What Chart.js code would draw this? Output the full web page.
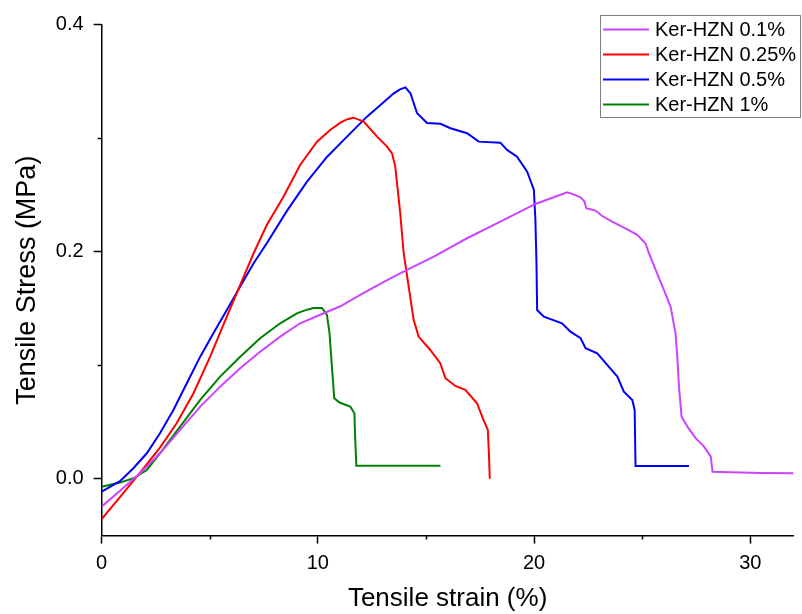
<!DOCTYPE html>
<html>
<head>
<meta charset="utf-8">
<script src="https://cdn.jsdelivr.net/npm/chart.js@4/dist/chart.umd.min.js"></script>
<style>
html,body{margin:0;padding:0;background:#fff;}
#wrap{width:802px;height:614px;position:relative;}
</style>
</head>
<body>
<div id="wrap"><canvas id="c" width="802" height="614"></canvas></div>
<script>
// ---- data ----
const seriesLabels = ['Ker-HZN 0.1%', 'Ker-HZN 0.25%', 'Ker-HZN 0.5%', 'Ker-HZN 1%'];
const seriesColors = ['#CC44FF', '#FF0000', '#0000FF', '#008000'];

const strain01 = [0, 0.85, 1.78, 2.70, 3.63, 4.56, 5.48, 6.41, 7.33, 8.26, 9.18, 10.11, 11.04, 12.0, 13.05, 14.12, 15.36, 16.9, 18.44, 20.06, 20.91, 21.53, 21.76, 22.15, 22.33, 22.41, 22.84, 23.15, 23.61, 24.31, 24.77, 25.15, 25.31, 25.62, 26.0, 26.31, 26.54, 26.62, 26.7, 26.82, 27.09, 27.47, 27.86, 28.17, 28.25, 29.1, 30.5, 32.0];
const stress01 = [-0.0245, -0.0105, 0.0049, 0.0225, 0.0431, 0.0636, 0.0812, 0.0974, 0.112, 0.1252, 0.137, 0.1445, 0.152, 0.1625, 0.1735, 0.184, 0.1957, 0.2119, 0.2265, 0.2421, 0.248, 0.2524, 0.251, 0.248, 0.2442, 0.2383, 0.2363, 0.2315, 0.2265, 0.2198, 0.2149, 0.2075, 0.1987, 0.184, 0.1664, 0.1517, 0.1282, 0.1076, 0.0812, 0.0548, 0.046, 0.0358, 0.0284, 0.0196, 0.0063, 0.0058, 0.0052, 0.005];

const strain025 = [0, 0.85, 1.78, 2.70, 3.47, 4.25, 5.02, 5.79, 6.41, 7.03, 7.64, 8.41, 9.18, 9.96, 10.57, 11.04, 11.4, 11.65, 12.12, 12.74, 13.2, 13.43, 13.58, 13.81, 13.97, 14.2, 14.43, 14.66, 15.2, 15.66, 15.9, 16.36, 16.82, 17.36, 17.66, 17.86, 17.91, 17.95];
const stress025 = [-0.0355, -0.0162, 0.0055, 0.0275, 0.049, 0.0754, 0.1076, 0.1429, 0.1708, 0.1987, 0.2236, 0.2485, 0.2765, 0.297, 0.3073, 0.3137, 0.317, 0.3181, 0.3146, 0.3014, 0.2926, 0.2867, 0.275, 0.2339, 0.1987, 0.1693, 0.14, 0.1253, 0.1135, 0.1018, 0.0886, 0.0818, 0.0783, 0.0666, 0.0519, 0.0431, 0.0225, 0.0];

const strain05 = [0, 0.85, 1.47, 2.09, 2.70, 3.32, 3.94, 4.56, 5.17, 5.79, 6.41, 7.03, 7.64, 8.57, 9.49, 10.42, 11.04, 12.27, 13.0, 13.51, 13.8, 14.05, 14.28, 14.59, 15.05, 15.67, 16.13, 16.9, 17.44, 18.44, 18.75, 19.21, 19.68, 19.99, 20.06, 20.11, 20.14, 20.45, 21.29, 21.68, 22.15, 22.38, 22.92, 23.38, 23.85, 24.15, 24.54, 24.65, 24.69, 27.16];
const stress05 = [-0.0113, -0.002, 0.0093, 0.0225, 0.0401, 0.0607, 0.0842, 0.1076, 0.1282, 0.1487, 0.1693, 0.1899, 0.2075, 0.236, 0.2615, 0.2835, 0.2955, 0.319, 0.331, 0.3396, 0.343, 0.3448, 0.3396, 0.322, 0.3134, 0.3127, 0.3088, 0.3044, 0.297, 0.2961, 0.2897, 0.2838, 0.2706, 0.2544, 0.228, 0.1899, 0.1487, 0.1429, 0.137, 0.1296, 0.1238, 0.115, 0.1106, 0.1003, 0.09, 0.0768, 0.0695, 0.0607, 0.0114, 0.0114];

const strain1 = [0, 0.85, 1.47, 2.09, 2.70, 3.63, 4.56, 5.48, 6.41, 7.33, 8.26, 9.03, 9.50, 9.80, 10.19, 10.42, 10.54, 10.65, 10.76, 11.0, 11.5, 11.69, 11.73, 11.78, 15.67];
const stress1 = [-0.0069, -0.0033, 0.0005, 0.0078, 0.0225, 0.046, 0.0695, 0.09, 0.1076, 0.1238, 0.137, 0.1458, 0.149, 0.1505, 0.1505, 0.1444, 0.1282, 0.0988, 0.071, 0.0672, 0.0636, 0.0578, 0.0343, 0.0116, 0.0116];

const xMajorTicks = [0, 10, 20, 30];
const xMinorTicks = [5, 15, 25];
const yMajorTicks = [0, 0.2, 0.4];
const yMinorTicks = [0.1, 0.3];
const xTitle = 'Tensile strain (%)';
const yTitle = 'Tensile Stress (MPa)';

// ---- build ----
const strains = [strain01, strain025, strain05, strain1];
const stresses = [stress01, stress025, stress05, stress1];
const datasets = seriesLabels.map((lab, i) => ({
  label: lab,
  data: strains[i].map((x, k) => ({x: x, y: stresses[i][k]})),
  borderColor: seriesColors[i],
  backgroundColor: seriesColors[i],
  borderWidth: 2,
  pointRadius: 0,
  tension: 0,
  fill: false
}));

const FONT = 'Liberation Sans, Arial, sans-serif';

const minorTicksPlugin = {
  id: 'minorTicks',
  afterDraw(chart) {
    const ctx = chart.ctx;
    const xs = chart.scales.x, ys = chart.scales.y;
    ctx.save();
    ctx.strokeStyle = '#000';
    ctx.lineWidth = 1.5;
    ctx.beginPath();
    xMinorTicks.forEach(v => {
      const p = Math.round(xs.getPixelForValue(v)) + 0.5;
      ctx.moveTo(p, xs.top);
      ctx.lineTo(p, xs.top + 4);
    });
    yMinorTicks.forEach(v => {
      const p = Math.round(ys.getPixelForValue(v)) + 0.5;
      ctx.moveTo(ys.right, p);
      ctx.lineTo(ys.right - 4, p);
    });
    ctx.stroke();
    ctx.restore();
  }
};

const boxLegendPlugin = {
  id: 'boxLegend',
  afterDraw(chart) {
    const ctx = chart.ctx;
    const bx = 600.5, by = 15.5, bw = 200, bh = 102;
    ctx.save();
    ctx.fillStyle = '#fff';
    ctx.fillRect(bx, by, bw, bh);
    ctx.strokeStyle = '#808080';
    ctx.lineWidth = 1;
    ctx.strokeRect(bx, by, bw, bh);
    ctx.font = '20px ' + FONT;
    ctx.textBaseline = 'middle';
    ctx.textAlign = 'left';
    chart.data.datasets.forEach((ds, i) => {
      const cy = 29.5 + i * 25;
      ctx.strokeStyle = ds.borderColor;
      ctx.lineWidth = 2;
      ctx.beginPath();
      ctx.moveTo(603, cy);
      ctx.lineTo(649, cy);
      ctx.stroke();
      ctx.fillStyle = '#000';
      ctx.fillText(ds.label, 655, cy + 1);
    });
    ctx.restore();
  }
};

new Chart(document.getElementById('c'), {
  type: 'line',
  data: {datasets: datasets},
  plugins: [minorTicksPlugin, boxLegendPlugin],
  options: {
    responsive: false,
    animation: false,
    layout: {padding: {left: 0, right: 8.4, top: 24.7, bottom: 0}},
    plugins: {legend: {display: false}, tooltip: {enabled: false}},
    scales: {
      x: {
        type: 'linear', min: 0, max: 32,
        afterFit(s) { s.height = 78.4; },
        afterBuildTicks(s) { s.ticks = xMajorTicks.map(v => ({value: v})); },
        ticks: {
          callback: (v) => String(v),
          font: {family: FONT, size: 20}, color: '#000', padding: 8,
          maxRotation: 0, autoSkip: false
        },
        grid: {drawOnChartArea: false, drawTicks: true, tickLength: 8, tickWidth: 1.5, tickColor: '#000', color: '#000'},
        border: {display: true, color: '#000', width: 1.5},
        title: {display: true, text: xTitle, font: {family: FONT, size: 26}, color: '#000', padding: {top: 0, bottom: 0}}
      },
      y: {
        type: 'linear', min: -0.05, max: 0.4,
        afterFit(s) { s.width = 101.6; },
        afterBuildTicks(s) { s.ticks = yMajorTicks.map(v => ({value: v})); },
        ticks: {
          callback: (v) => Number(v).toFixed(1),
          font: {family: FONT, size: 20}, color: '#000', padding: 10,
          autoSkip: false
        },
        grid: {drawOnChartArea: false, drawTicks: true, tickLength: 8, tickWidth: 1.5, tickColor: '#000', color: '#000'},
        border: {display: true, color: '#000', width: 1.5},
        title: {display: true, text: yTitle, font: {family: FONT, size: 27}, color: '#000', padding: {top: 11, bottom: 0}}
      }
    }
  }
});
</script>
</body>
</html>
